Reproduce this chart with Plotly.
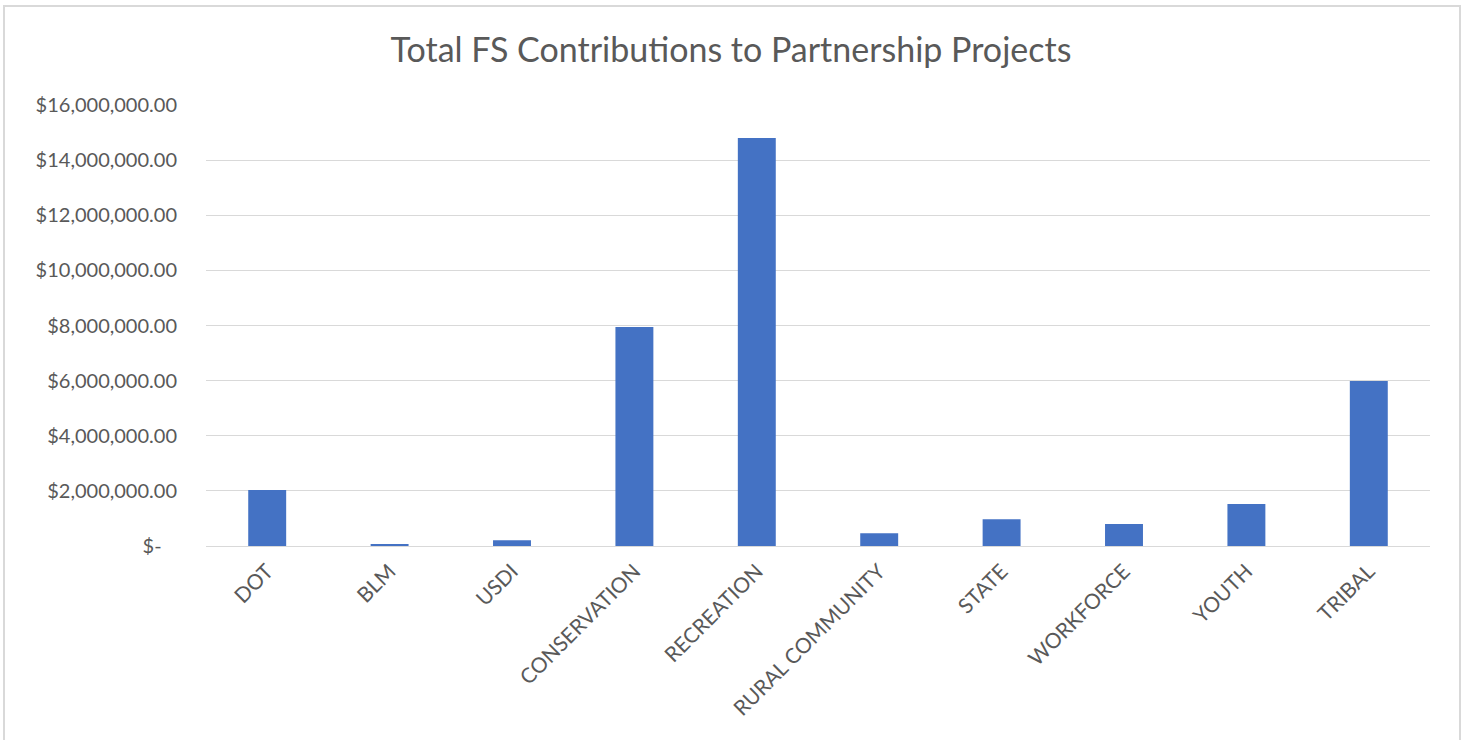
import plotly.graph_objects as go

categories = ["DOT", "BLM", "USDI", "CONSERVATION", "RECREATION", "RURAL COMMUNITY",
              "STATE", "WORKFORCE", "YOUTH", "TRIBAL"]
values = [2030000, 40000, 210000, 7950000, 14800000, 460000, 970000, 800000, 1520000, 5990000]
tick_values = [0, 2000000, 4000000, 6000000, 8000000, 10000000, 12000000, 14000000, 16000000]
tick_labels = ["$-\u00a0\u00a0\u00a0", "$2,000,000.00", "$4,000,000.00", "$6,000,000.00", "$8,000,000.00",
               "$10,000,000.00", "$12,000,000.00", "$14,000,000.00", "$16,000,000.00"]

W, H = 1466, 740
L, R, T, B = 206, 36, 105, 194
pw, ph = W - L - R, H - T - B

fig = go.Figure(go.Bar(x=categories, y=values, marker=dict(color="#4472C4", line=dict(width=0))))

font = "Lato, 'Open Sans', sans-serif"
fig.update_layout(
    width=W, height=H,
    margin=dict(l=L, r=R, t=T, b=B, autoexpand=False),
    paper_bgcolor="white", plot_bgcolor="white",
    bargap=0.69,
    showlegend=False,
    title=dict(text="Total FS Contributions to Partnership Projects", x=731 / W, xanchor="center",
               y=1 - 50 / H, yanchor="middle", font=dict(family=font, size=34, color="#595959")),
    font=dict(family=font, color="#595959"),
)
fig.update_xaxes(tickangle=-45, tickfont=dict(size=21, color="#595959"), showline=False,
                 showgrid=False, ticks="", ticklen=0, ticklabelstandoff=8)
fig.update_yaxes(range=[0, 16000000], tickvals=tick_values, ticktext=tick_labels,
                 tickfont=dict(size=20, color="#595959"), showgrid=True, gridcolor="#D9D9D9",
                 gridwidth=1, zeroline=True, zerolinecolor="#D9D9D9", zerolinewidth=1,
                 showline=False, ticks="", ticklabelstandoff=28)

# chart border
x0 = (4 - L) / pw
x1 = (1460 - L) / pw
y0 = -(760 - (T + ph)) / ph
y1 = 1 + (T - 6) / ph
fig.add_shape(type="rect", xref="paper", yref="paper", x0=x0, x1=x1, y0=y0, y1=y1,
              line=dict(color="#D9D9D9", width=2), fillcolor="rgba(0,0,0,0)", layer="below")

fig.write_html("out.html", config={"displayModeBar": False},
               post_script="document.body.style.margin='0';document.body.style.overflow='hidden';")
